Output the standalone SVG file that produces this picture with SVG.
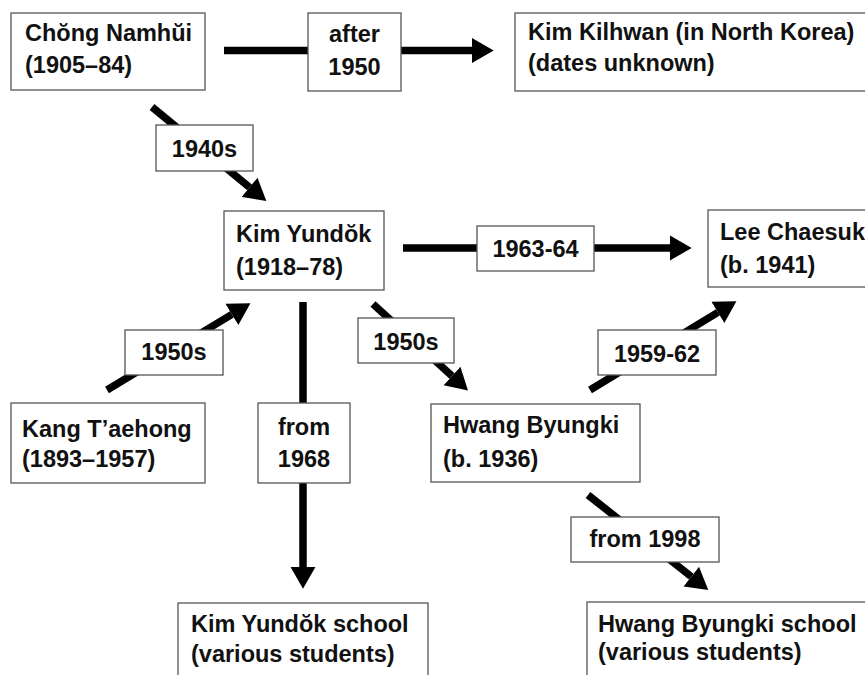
<svg xmlns="http://www.w3.org/2000/svg" width="865" height="675" viewBox="0 0 865 675">
<defs>
<marker id="ah" markerUnits="userSpaceOnUse" markerWidth="22" markerHeight="26" viewBox="0 -12 20 24" refX="0" refY="0" orient="auto">
<path d="M0,-11.5 L20,0 L0,11.5 z" fill="#000"/>
</marker>
<style>
.box{fill:#fff;stroke:#555;stroke-width:1.3}
.t{font-family:"Liberation Sans",Arial,sans-serif;font-weight:bold;font-size:23.5px;fill:#111}
.c{text-anchor:middle}
.e{stroke:#000;stroke-width:7.5;fill:none;marker-end:url(#ah)}
</style>
</defs>
<rect width="865" height="675" fill="#fff"/>
<g id="connectors">
<line class="e" x1="224" y1="50.5" x2="472" y2="50.5"/>
<line class="e" x1="152" y1="107" x2="249.6" y2="187.3"/>
<line class="e" x1="403" y1="248" x2="670" y2="248"/>
<line class="e" x1="107" y1="390" x2="231.9" y2="314.4"/>
<line class="e" x1="303" y1="302" x2="303" y2="567"/>
<line class="e" x1="373" y1="304" x2="452" y2="376"/>
<line class="e" x1="590" y1="390" x2="717.9" y2="312.4"/>
<line class="e" x1="588" y1="495" x2="691.3" y2="576.6"/>
</g>
<g id="edge-labels">
<g id="lbl-after1950"><rect class="box" x="308" y="13" width="93" height="78"/><text class="t c" x="354.5" y="42">after</text><text class="t c" x="354.5" y="75">1950</text></g>
<g id="lbl-1940s"><rect class="box" x="156" y="125" width="97" height="46"/><text class="t c" x="204.5" y="157">1940s</text></g>
<g id="lbl-1963-64"><rect class="box" x="477" y="226" width="117" height="45"/><text class="t c" x="535.5" y="257">1963-64</text></g>
<g id="lbl-1950s-a"><rect class="box" x="125" y="330" width="98" height="45"/><text class="t c" x="174" y="360">1950s</text></g>
<g id="lbl-1950s-b"><rect class="box" x="358" y="318" width="96" height="45"/><text class="t c" x="406" y="350">1950s</text></g>
<g id="lbl-1959-62"><rect class="box" x="598" y="330" width="118" height="45"/><text class="t c" x="657" y="362">1959-62</text></g>
<g id="lbl-from1968"><rect class="box" x="258" y="403" width="92" height="80"/><text class="t c" x="304" y="435">from</text><text class="t c" x="304" y="467">1968</text></g>
<g id="lbl-from1998"><rect class="box" x="571" y="517" width="148" height="45"/><text class="t c" x="645" y="547">from 1998</text></g>
</g>
<g id="chong"><rect class="box" x="11" y="13" width="194" height="77"/><text class="t" x="25" y="41">Chŏng Namhŭi</text><text class="t" x="25" y="73">(1905–84)</text></g>
<g id="kilhwan"><rect class="box" x="515" y="13" width="360" height="78"/><text class="t" x="528" y="40">Kim Kilhwan (in North Korea)</text><text class="t" x="528" y="71">(dates unknown)</text></g>
<g id="yundok"><rect class="box" x="224" y="211" width="160" height="79"/><text class="t" x="236" y="242">Kim Yundŏk</text><text class="t" x="236" y="275">(1918–78)</text></g>
<g id="lee"><rect class="box" x="708" y="210" width="170" height="77"/><text class="t" x="720" y="240">Lee Chaesuk</text><text class="t" x="720" y="273">(b. 1941)</text></g>
<g id="kang"><rect class="box" x="11" y="403" width="194" height="80"/><text class="t" x="22" y="437">Kang T’aehong</text><text class="t" x="22" y="467">(1893–1957)</text></g>
<g id="hwang"><rect class="box" x="431" y="404" width="209" height="78"/><text class="t" x="443" y="433">Hwang Byungki</text><text class="t" x="443" y="467">(b. 1936)</text></g>
<g id="yundok-school"><rect class="box" x="178" y="603" width="250" height="90"/><text class="t" x="191" y="632">Kim Yundŏk school</text><text class="t" x="191" y="662">(various students)</text></g>
<g id="hwang-school"><rect class="box" x="587" y="602" width="290" height="90"/><text class="t" x="598" y="632">Hwang Byungki school</text><text class="t" x="598" y="660">(various students)</text></g>
</svg>
